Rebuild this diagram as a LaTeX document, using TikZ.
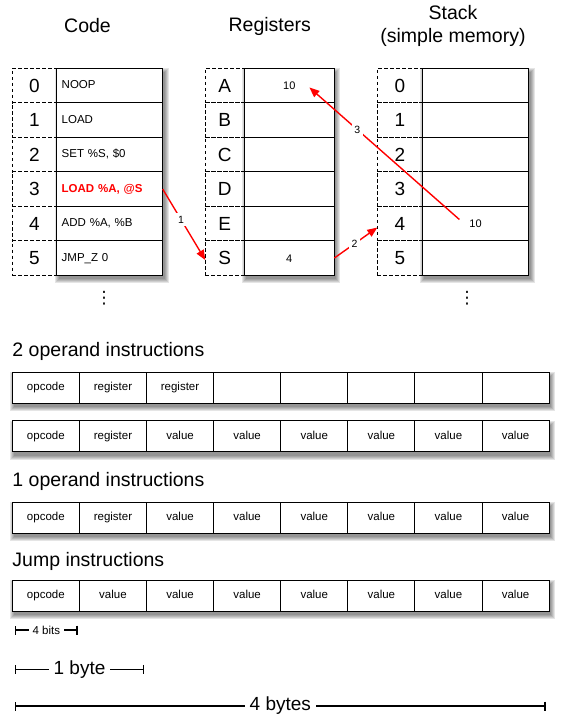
\documentclass[tikz,border=0pt]{standalone}
\usepackage{fontspec}
\setmainfont{Liberation Sans}
\newfontfamily\dotsfont{DejaVu Sans}
\usetikzlibrary{arrows.meta,calc}
\newcommand\shadowrect[4]{%
  \foreach \sh in {0,1,2,3,4}{\fill[black,opacity=0.1] ({#1+2-\sh},{#2+4-\sh}) rectangle ({#3+2+\sh},{#4+4+\sh});}}
\tikzset{
  every node/.style={inner sep=0pt, outer sep=0pt},
  title/.style={font=\fontsize{19.5}{23}\selectfont, align=center},
  idxbox/.style={draw, dashed, dash pattern=on 3.5pt off 2.5pt, line width=0.8pt, minimum height=34.5pt, text height=13.5pt, text depth=0pt, font=\fontsize{19}{22}\selectfont},
  memcell/.style={draw, fill=white, line width=1pt, minimum height=34.5pt},
  codecell/.style={memcell, minimum width=106pt, text width=96pt, inner xsep=5pt, align=left, text height=8.5pt, text depth=2.5pt, font=\fontsize{11.5}{13}\selectfont},
  regcell/.style={memcell, minimum width=90pt},
  stackcell/.style={memcell, minimum width=106.4pt},
  val/.style={font=\fontsize{11}{13}\selectfont},
  instcell/.style={draw, fill=white, line width=1pt, minimum width=67.1pt, minimum height=31pt, text height=8.5pt, text depth=2.5pt, font=\fontsize{11.5}{13}\selectfont},
  section/.style={anchor=west, font=\fontsize{19.5}{23}\selectfont},
  redarrow/.style={draw=red, line width=1.4pt, -{Triangle[length=10pt,width=8pt]}},
  arrlbl/.style={fill=white, inner sep=2.5pt, font=\fontsize{10.5}{12}\selectfont},
  dimline/.style={line width=1.3pt, {Bar[width=9pt]}-{Bar[width=9pt]}},
  dimlbl/.style={fill=white, inner xsep=5pt, inner ysep=2pt},
  vdotsnode/.style={font=\dotsfont\fontsize{17}{20}\selectfont}
}
\begin{document}
\begin{tikzpicture}[x=1pt,y=-1pt]
\useasboundingbox (0,0) rectangle (560,719);

% titles
\node[title] (tcode) at (87.5,26) {Code};
\node[title] (treg) at (269.8,26) {Registers};
\node[title] (tstack) at (453,26) {Stack\\(simple memory)};

% shadows of the memory columns
\shadowrect{56.7}{68.3}{162.7}{275.3}
\shadowrect{244.3}{68.3}{334.3}{275.3}
\shadowrect{422.3}{68.3}{528.7}{275.3}

% Code column
\foreach \i in {0,...,5}{
  \node[idxbox, minimum width=44.4pt] (ci\i) at (34.5,{85.55+34.5*\i}) {\i};
}
\node[codecell] (c0) at (109.7,85.55) {NOOP};
\node[codecell] (c1) at (109.7,120.05) {LOAD};
\node[codecell] (c2) at (109.7,154.55) {SET \%S, \$0};
\node[codecell, text=red, font=\fontsize{11.5}{13}\selectfont\bfseries] (c3) at (109.7,189.05) {LOAD \%A, @S};
\node[codecell] (c4) at (109.7,223.55) {ADD \%A, \%B};
\node[codecell] (c5) at (109.7,258.05) {JMP\_Z 0};
\node[vdotsnode] (cdots) at (104,298) {⋮};

% Registers column
\foreach \r [count=\i from 0] in {A,B,C,D,E,S}{
  \node[idxbox, minimum width=39pt] (ri\r) at (224.8,{85.55+34.5*\i}) {\r};
  \node[regcell] (r\r) at (289.3,{85.55+34.5*\i}) {};
}
\node[val] (rAv) at (289.3,86) {10};
\node[val] (rSv) at (289.3,258.5) {4};

% Stack column
\foreach \i in {0,...,5}{
  \node[idxbox, minimum width=45pt] (si\i) at (399.8,{85.55+34.5*\i}) {\i};
  \node[stackcell] (s\i) at (475.5,{85.55+34.5*\i}) {};
}
\node[val] (s4v) at (475.5,223.5) {10};
\node[vdotsnode] (sdots) at (467,298) {⋮};

% arrows
\draw[redarrow] (c3.east) -- ([yshift=-2pt]riS.west) node[arrlbl, pos=0.43] {1};
\draw[redarrow] (rS.east) -- ([yshift=-4pt]si4.west) node[arrlbl, pos=0.47] {2};
\draw[redarrow] ([xshift=-10pt,yshift=4pt]s4v.west) -- ([xshift=14pt,yshift=-1.5pt]rAv.east) node[arrlbl, pos=0.68] {3};

% instruction formats
\node[section] (h2) at (12.5,351) {2 operand instructions};
\node[section] (h1) at (12.5,481) {1 operand instructions};
\node[section] (hj) at (12.5,561) {Jump instructions};

\shadowrect{12.3}{372.2}{549.1}{403.2}
\shadowrect{12.3}{420.5}{549.1}{451.5}
\shadowrect{12.3}{502}{549.1}{533}
\shadowrect{12.3}{580.3}{549.1}{611.3}

\foreach \t [count=\k from 0] in {opcode,register,register,{},{},{},{},{}}{
  \node[instcell] (a\k) at ({45.85+67.1*\k},387.7) {\t};
}
\foreach \t [count=\k from 0] in {opcode,register,value,value,value,value,value,value}{
  \node[instcell] (b\k) at ({45.85+67.1*\k},436) {\t};
}
\foreach \t [count=\k from 0] in {opcode,register,value,value,value,value,value,value}{
  \node[instcell] (d\k) at ({45.85+67.1*\k},517.5) {\t};
}
\foreach \t [count=\k from 0] in {opcode,value,value,value,value,value,value,value}{
  \node[instcell] (j\k) at ({45.85+67.1*\k},595.8) {\t};
}

% dimension lines
\coordinate (bitsL) at (15,630);
\coordinate (bitsR) at (77.7,630);
\coordinate (byteL) at (15,669.3);
\coordinate (byteR) at (144,669.3);
\coordinate (bytesL) at (15,706);
\coordinate (bytesR) at (545.7,706);
\draw[dimline] (bitsL) -- (bitsR) node[dimlbl, midway, inner xsep=4pt, font=\fontsize{11.5}{13}\selectfont] {4 bits};
\draw[dimline] (byteL) -- (byteR) node[dimlbl, midway, font=\fontsize{19}{22}\selectfont] {1 byte};
\draw[dimline] (bytesL) -- (bytesR) node[dimlbl, midway, font=\fontsize{19}{22}\selectfont] {4 bytes};
\end{tikzpicture}
\end{document}
